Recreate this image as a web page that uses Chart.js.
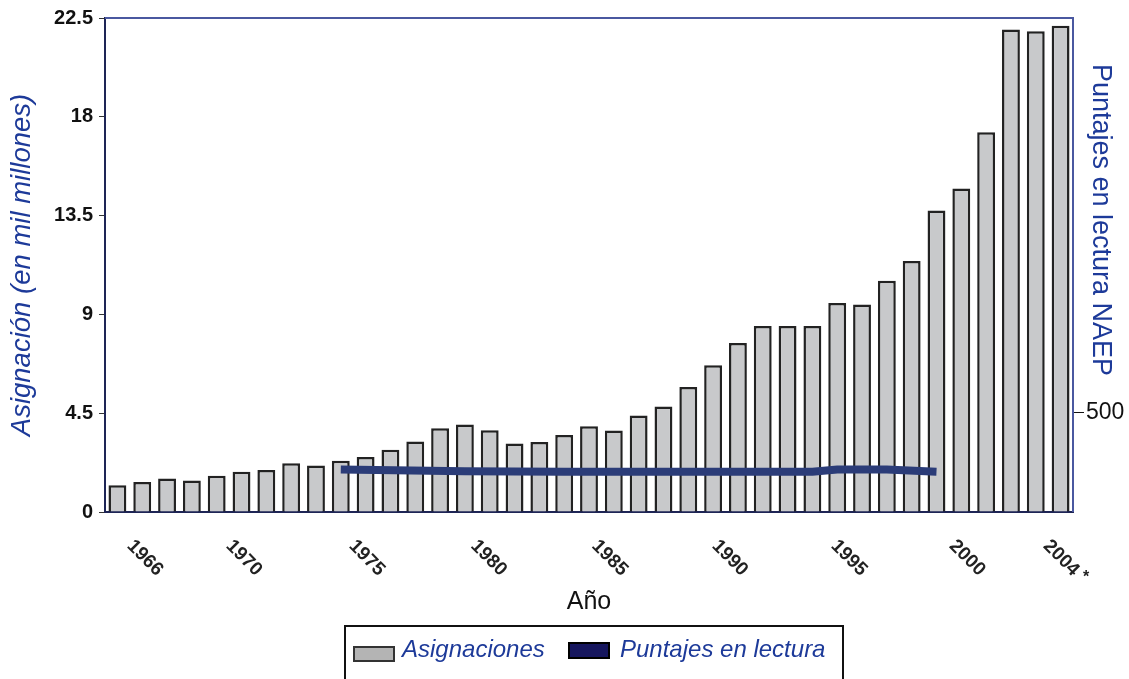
<!DOCTYPE html>
<html>
<head>
<meta charset="utf-8">
<script src="https://cdn.jsdelivr.net/npm/chart.js@4.4.1/dist/chart.umd.min.js"></script>
<style>
    body { margin: 0; background: #fff; font-family: "Liberation Sans", Arial, sans-serif; }
    #wrap { position: relative; width: 1129px; height: 679px; overflow: hidden; }
    #legend { position: absolute; left: 344px; top: 625px; width: 500px; height: 70px; border: 2px solid #111; box-sizing: border-box; }
    .sw { position: absolute; box-sizing: border-box; border: 2px solid #333; }
    .lt { position: absolute; font-style: italic; font-size: 24px; line-height: 1; color: #1d3a99; white-space: nowrap; }
</style>
</head>
<body>
<div id="wrap">
    <canvas id="chart" width="1129" height="679"></canvas>
    <div id="legend">
        <div class="sw" style="left:7px;top:19px;width:42px;height:16px;background:#b4b4b4"></div>
        <div class="lt" style="left:56px;top:10px">Asignaciones</div>
        <div class="sw" style="left:222px;top:15px;width:42px;height:17px;background:#16165e;border-color:#000"></div>
        <div class="lt" style="left:274px;top:10px">Puntajes en lectura</div>
    </div>
</div>
<script>
// Data
const years = [
    "1966", "1967", "1968", "1969", "1970", "1971", "1972", "1973", "1974", "1975",
    "1976", "1977", "1978", "1979", "1980", "1981", "1982", "1983", "1984", "1985",
    "1986", "1987", "1988", "1989", "1990", "1991", "1992", "1993", "1994", "1995",
    "1996", "1997", "1998", "1999", "2000", "2001", "2002", "2003", "2004",
];
// Asignación, en mil millones
const asignaciones = [
    1.22, 1.37, 1.53, 1.44, 1.65, 1.83, 1.91, 2.22, 2.12, 2.33,
    2.51, 2.83, 3.21, 3.81, 3.99, 3.72, 3.12, 3.19, 3.51, 3.90,
    3.71, 4.40, 4.80, 5.69, 6.68, 7.70, 8.47, 8.47, 8.47, 9.52,
    9.45, 10.53, 11.43, 13.73, 14.73, 17.30, 21.98, 21.90, 22.15,
];
// Puntajes en lectura NAEP (null = sin dato)
const puntajes = [
    null, null, null, null, null, null, null, null, null, 213,
    null, null, null, null, 204, null, null, null, 202, null,
    null, null, 202, null, 202, null, 202, null, 202, 213,
    null, 213, null, 202, null, null, null, null, null,
];
const xTickLabels = ["1966", "1970", "1975", "1980", "1985", "1990", "1995", "2000", "2004*"];
const leftTicks = [0, 4.5, 9, 13.5, 18, 22.5];
const rightTicks = [500];

const FONT = '"Liberation Sans", Arial, sans-serif';
Chart.defaults.font.family = FONT;

// frame, rotated year labels and right-hand title
const extras = {
    id: "extras",
    afterDraw(chart) {
        const { ctx, chartArea: a, scales } = chart;
        ctx.save();
        ctx.strokeStyle = "#4a58a0";
        ctx.lineWidth = 2;
        ctx.beginPath();
        ctx.moveTo(a.left, a.top);
        ctx.lineTo(a.right, a.top);
        ctx.lineTo(a.right, a.bottom);
        ctx.stroke();

        ctx.fillStyle = "#222";
        ctx.textAlign = "center";
        ctx.textBaseline = "middle";
        const n = years.length - 1;
        xTickLabels.forEach((lbl) => {
            const yr = lbl.replace("*", "");
            const i = years.indexOf(yr);
            const x = scales.x.getPixelForValue(i) + 27.5 - 27 * Math.pow(i / n, 2);
            const y = a.bottom + 46;
            ctx.font = "bold 19px " + FONT;
            ctx.save();
            ctx.translate(x, y);
            ctx.rotate(Math.PI / 4);
            ctx.fillText(yr, 0, 0);
            ctx.restore();
            if (lbl.endsWith("*")) {
                ctx.font = "bold 16px " + FONT;
                ctx.fillText("*", x + 25, y + 20);
            }
        });

        ctx.fillStyle = "#1d3a99";
        ctx.font = "27px " + FONT;
        ctx.translate(1100, 220);
        ctx.rotate(Math.PI / 2);
        ctx.fillText("Puntajes en lectura NAEP", 0, 0);
        ctx.restore();
    },
};

const ctx = document.getElementById("chart").getContext("2d");
new Chart(ctx, {
    data: {
        labels: years,
        datasets: [
            {
                type: "line",
                label: "Puntajes en lectura",
                data: puntajes,
                yAxisID: "y1",
                borderColor: "#2b3c78",
                borderWidth: 8,
                pointRadius: 0,
                spanGaps: true,
                tension: 0,
                order: 0,
            },
            {
                type: "bar",
                label: "Asignaciones",
                data: asignaciones,
                yAxisID: "y",
                backgroundColor: "#c8c9cb",
                borderColor: "#222",
                borderWidth: 2.5,
                barPercentage: 0.72,
                categoryPercentage: 1,
                order: 1,
            },
        ],
    },
    options: {
        responsive: false,
        animation: false,
        layout: { padding: { top: 16, right: 0, bottom: 59, left: 0 } },
        plugins: {
            legend: { display: false },
            tooltip: { enabled: false },
        },
        scales: {
            x: {
                type: "category",
                grid: { display: false },
                border: { display: true, color: "#1e2556", width: 2 },
                ticks: { display: false },
                title: {
                    display: true,
                    text: "Año",
                    color: "#111",
                    font: { size: 25 },
                    padding: { top: 0, bottom: 3 },
                },
                afterFit: (s) => { s.height = 108; },
            },
            y: {
                position: "left",
                min: 0,
                max: 22.5,
                afterBuildTicks: (s) => { s.ticks = leftTicks.map((v) => ({ value: v })); },
                ticks: {
                    color: "#111",
                    font: { size: 20, weight: "bold" },
                    padding: 6,
                    callback: (v) => String(v),
                },
                grid: { drawOnChartArea: false, drawTicks: true, tickLength: 6, color: "#333" },
                border: { display: true, color: "#1e2556", width: 2 },
                title: {
                    display: true,
                    text: "Asignación (en mil millones)",
                    color: "#1d3a99",
                    font: { size: 27.5, style: "italic" },
                    padding: { top: 6, bottom: 0 },
                },
                afterFit: (s) => { s.width = 105; },
            },
            y1: {
                position: "right",
                min: 0,
                max: 2480,
                afterBuildTicks: (s) => { s.ticks = rightTicks.map((v) => ({ value: v })); },
                ticks: {
                    color: "#111",
                    font: { size: 23 },
                    padding: 2,
                    callback: (v) => String(v),
                },
                grid: { drawOnChartArea: false, drawTicks: true, tickLength: 11, color: "#111" },
                border: { display: false },
                afterFit: (s) => { s.width = 56; },
            },
        },
    },
    plugins: [extras],
});
</script>
</body>
</html>
